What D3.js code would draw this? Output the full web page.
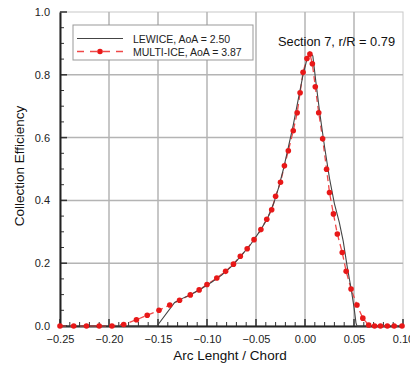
<!DOCTYPE html>
<html><head><meta charset="utf-8">
<script src="https://cdn.jsdelivr.net/npm/d3@7"></script>
<style>body{margin:0;background:#fff}text{font-family:"Liberation Sans",Arial,sans-serif}</style>
</head><body><svg id="c" width="410" height="366"></svg>
<script>
const xTicks = [-0.25,-0.20,-0.15,-0.10,-0.05,0.00,0.05,0.10];
const yTicks = [0.0,0.2,0.4,0.6,0.8,1.0];
const lewiceX = [-0.25,-0.151,-0.133,-0.125,-0.115,-0.105,-0.095,-0.085,-0.075,-0.065,-0.055,-0.045,-0.038,-0.032,-0.027,-0.022,-0.017,-0.012,-0.007,-0.002,0.002,0.005,0.008,0.011,0.015,0.020,0.025,0.030,0.035,0.039,0.043,0.047,0.050,0.052,0.053,0.10];
const lewiceY = [0,0,0.075,0.088,0.103,0.120,0.140,0.162,0.190,0.224,0.262,0.307,0.345,0.39,0.44,0.50,0.57,0.64,0.72,0.80,0.85,0.872,0.86,0.78,0.68,0.57,0.47,0.39,0.33,0.27,0.19,0.12,0.06,0.01,0,0];
const multiX = [-0.250,-0.236,-0.223,-0.210,-0.197,-0.185,-0.172,-0.161,-0.149,-0.138,-0.128,-0.117,-0.108,-0.100,-0.090,-0.081,-0.073,-0.066,-0.059,-0.052,-0.045,-0.039,-0.034,-0.030,-0.025,-0.021,-0.017,-0.012,-0.008,-0.005,-0.002,0.002,0.005,0.0075,0.0105,0.014,0.018,0.022,0.025,0.029,0.033,0.038,0.042,0.047,0.053,0.059,0.065,0.071,0.077,0.084,0.091,0.099];
const multiY = [0,0,0,0,0,0.005,0.020,0.034,0.050,0.067,0.082,0.099,0.115,0.132,0.153,0.174,0.197,0.222,0.246,0.275,0.307,0.340,0.370,0.413,0.458,0.510,0.558,0.622,0.679,0.743,0.808,0.852,0.866,0.835,0.762,0.679,0.596,0.499,0.425,0.357,0.293,0.234,0.174,0.118,0.067,0.025,0.003,0,0,0,0,0];
const legendLabels = ["LEWICE, AoA = 2.50","MULTI-ICE, AoA = 3.87"];
const title = "Section 7, r/R = 0.79";

const svg = d3.select("#c");
const L=60,R=403,T=12,B=326;
const x = d3.scaleLinear().domain([-0.25,0.10]).range([L,R]);
const y = d3.scaleLinear().domain([0,1]).range([B,T]);

svg.append("rect").attr("x",L).attr("y",T).attr("width",R-L).attr("height",B-T).attr("fill","none").attr("stroke","#c8c8c8").attr("stroke-width",1);
const g = svg.append("g");
xTicks.slice(1,-1).forEach(v=>g.append("line").attr("x1",x(v)).attr("x2",x(v)).attr("y1",T).attr("y2",B).attr("stroke","#b4b4b4").attr("stroke-width",1.5));
yTicks.slice(1,-1).forEach(v=>g.append("line").attr("x1",L).attr("x2",R).attr("y1",y(v)).attr("y2",y(v)).attr("stroke","#b4b4b4").attr("stroke-width",1.5));

const xm = d3.range(-25,11).map(i=>i/100);
xm.forEach(v=>{const major=Math.abs(Math.round(v*100)%5)===0;svg.append("line").attr("x1",x(v)).attr("x2",x(v)).attr("y1",B).attr("y2",B-(major?7:4)).attr("stroke","#333").attr("stroke-width",major?1.5:1);});
const ym = d3.range(0,21).map(i=>i/20);
ym.forEach(v=>{const major=Math.abs(Math.round(v*20)%4)===0;svg.append("line").attr("x1",L).attr("x2",L+(major?7:4)).attr("y1",y(v)).attr("y2",y(v)).attr("stroke","#333").attr("stroke-width",major?1.5:1);});

const xa = svg.append("g").attr("transform",`translate(0,${B})`).call(d3.axisBottom(x).tickValues(xTicks).tickFormat(d3.format(".2f")).tickSize(0).tickPadding(9));
xa.select(".domain").attr("stroke","#222").attr("stroke-width",2);
xa.selectAll("text").attr("font-size",11).attr("fill","#222").attr("font-family","Liberation Sans, Arial, sans-serif");
const ya = svg.append("g").attr("transform",`translate(${L},0)`).call(d3.axisLeft(y).tickValues(yTicks).tickFormat(d3.format(".1f")).tickSize(0).tickPadding(10));
ya.select(".domain").attr("stroke","#222").attr("stroke-width",2);
ya.selectAll("text").attr("font-size",11).attr("fill","#222").attr("font-family","Liberation Sans, Arial, sans-serif");

svg.append("text").attr("x",230).attr("y",360).attr("text-anchor","middle").attr("font-size",13.5).attr("fill","#111").text("Arc Lenght / Chord");
svg.append("text").attr("transform","translate(24,166) rotate(-90)").attr("text-anchor","middle").attr("font-size",13.5).attr("fill","#111").text("Collection Efficiency");

const lw = lewiceX.map((v,i)=>[v,lewiceY[i]]);
const mi = multiX.map((v,i)=>[v,multiY[i]]);
const line = d3.line().x(d=>x(d[0])).y(d=>y(d[1]));
svg.append("path").attr("d",line(mi)).attr("fill","none").attr("stroke","#f04848").attr("stroke-width",1.3).attr("stroke-dasharray","6,4");
svg.append("path").attr("d",line(lw)).attr("fill","none").attr("stroke","#444").attr("stroke-width",1.1);
svg.selectAll("circle.m").data(mi).enter().append("circle").attr("cx",d=>x(d[0])).attr("cy",d=>y(d[1])).attr("r",2.8).attr("fill","#e81818");

svg.append("rect").attr("x",73).attr("y",25).attr("width",180).attr("height",35).attr("fill","#fff").attr("stroke","#999").attr("stroke-width",1);
svg.append("line").attr("x1",77).attr("x2",123).attr("y1",38.5).attr("y2",38.5).attr("stroke","#444").attr("stroke-width",1.1);
svg.append("line").attr("x1",77).attr("x2",123).attr("y1",51.5).attr("y2",51.5).attr("stroke","#f04848").attr("stroke-width",1.3).attr("stroke-dasharray","7,6");
svg.append("circle").attr("cx",100).attr("cy",51.5).attr("r",2.8).attr("fill","#e81818");
legendLabels.forEach((t,i)=>svg.append("text").attr("x",133).attr("y",42.5+i*13).attr("font-size",10.5).attr("fill","#222").text(t));

svg.append("text").attr("x",278).attr("y",46).attr("font-size",12.8).attr("fill","#111").text(title);
</script></body></html>
